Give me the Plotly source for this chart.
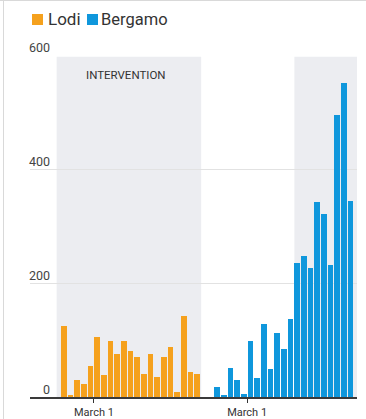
import plotly.graph_objects as go

# ---- data ----
lodi_values = [125, 3, 30, 22, 54, 106, 39, 98, 76, 98, 81, 71, 41, 75, 35, 71, 88, 9, 142, 43, 41]
bergamo_values = [18, 2, 51, 30, 6, 98, 33, 128, 50, 113, 85, 137, 235, 247, 226, 342, 321, 232, 495, 551, 344]
series_names = ["Lodi", "Bergamo"]
series_colors = ["#f5a11d", "#0f97dc"]
y_ticks = [0, 200, 400, 600]
x_tick_label = "March 1"
march1_index = 4.5
bergamo_offset = 23
annotation_text = "INTERVENTION"

lodi_x = list(range(len(lodi_values)))
bergamo_x = [bergamo_offset + i for i in range(len(bergamo_values))]

W, H = 366, 419
L, R, T, B = 30, 9, 55, 22
pw, ph = W - L - R, H - T - B


def px(X):
    return (X - L) / pw


def py(Y):
    return (H - B - Y) / ph


fig = go.Figure()
fig.add_trace(go.Bar(x=lodi_x, y=lodi_values, marker=dict(color=series_colors[0], line=dict(width=0)),
                     width=0.85, name=series_names[0], showlegend=False))
fig.add_trace(go.Bar(x=bergamo_x, y=bergamo_values, marker=dict(color=series_colors[1], line=dict(width=0)),
                     width=0.85, name=series_names[1], showlegend=False))

shapes = []
# shaded intervention areas
shapes.append(dict(type="rect", xref="x", yref="y", x0=-1.1, x1=20.6, y0=0, y1=597,
                   fillcolor="#ecedf1", line=dict(width=0), layer="below"))
shapes.append(dict(type="rect", xref="x", yref="y", x0=bergamo_offset + 11.6, x1=44.0, y0=0, y1=597,
                   fillcolor="#ecedf1", line=dict(width=0), layer="below"))
# frame lines
shapes.append(dict(type="line", xref="paper", yref="paper", x0=px(0), x1=px(W), y0=py(0.5), y1=py(0.5),
                   line=dict(color="#d9d9d9", width=1)))
shapes.append(dict(type="line", xref="paper", yref="paper", x0=px(3.5), x1=px(3.5), y0=py(0), y1=py(H),
                   line=dict(color="#d9d9d9", width=1)))
# legend squares
shapes.append(dict(type="rect", xref="paper", yref="paper", x0=px(32), x1=px(43), y0=py(25), y1=py(14),
                   fillcolor=series_colors[0], line=dict(width=0)))
shapes.append(dict(type="rect", xref="paper", yref="paper", x0=px(87), x1=px(98), y0=py(25), y1=py(14),
                   fillcolor=series_colors[1], line=dict(width=0)))

annotations = []
annotations.append(dict(xref="paper", yref="paper", x=px(46), y=py(19.5), text=series_names[0],
                        showarrow=False, xanchor="left", yanchor="middle",
                        font=dict(family="Roboto", size=17, color="#333333")))
annotations.append(dict(xref="paper", yref="paper", x=px(99), y=py(19.5), text=series_names[1],
                        showarrow=False, xanchor="left", yanchor="middle",
                        font=dict(family="Roboto", size=16.5, color="#333333")))
for t in y_ticks:
    annotations.append(dict(xref="paper", yref="y", x=px(52), y=t, text=str(t), showarrow=False,
                            xanchor="right", yanchor="bottom", yshift=-1.5,
                            font=dict(family="Roboto", size=12.5, color="#444444")))
annotations.append(dict(xref="x", yref="y", x=9.3, y=565, text=annotation_text, showarrow=False,
                        xanchor="center", yanchor="middle",
                        font=dict(family="Roboto", size=11.5, color="#333333")))

fig.update_layout(
    width=W, height=H,
    margin=dict(l=L, r=R, t=T, b=B),
    paper_bgcolor="white", plot_bgcolor="white",
    bargap=0,
    shapes=shapes,
    annotations=annotations,
    showlegend=False,
    xaxis=dict(range=[-5.1, 44.0], tickvals=[march1_index, bergamo_offset + march1_index],
               ticktext=[x_tick_label, x_tick_label], ticks="outside", ticklen=4, tickwidth=1,
               tickcolor="#333333", showline=True, linecolor="#3a3a3a", linewidth=1.5,
               showgrid=False, zeroline=False, automargin=False,
               tickfont=dict(family="Roboto", size=11, color="#333333")),
    yaxis=dict(range=[0, 600], tickvals=y_ticks, showticklabels=False, showgrid=True,
               gridcolor="#e2e2e2", gridwidth=1, zeroline=False, fixedrange=True, automargin=False),
)

fig.write_html("out.html")
